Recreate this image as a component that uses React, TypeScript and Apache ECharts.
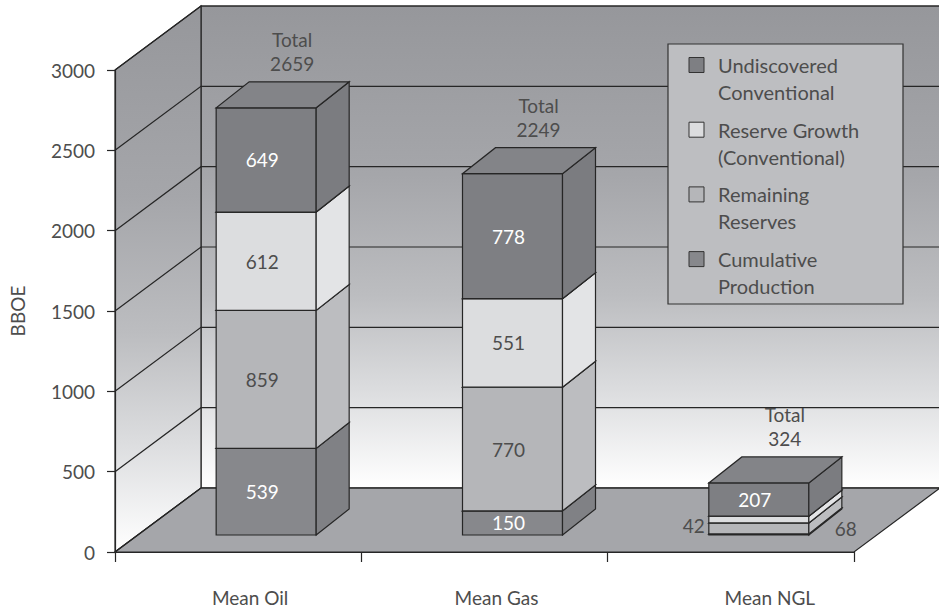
import React, { useEffect, useRef } from "react";
import * as echarts from "echarts";

// Resource categories along the x axis
const categories = ["Mean Oil", "Mean Gas", "Mean NGL"];

// Stack layers, bottom to top (BBOE)
const cumulativeProduction = [539, 150, 7];
const remainingReserves = [859, 770, 68];
const reserveGrowth = [612, 551, 42];
const undiscoveredConventional = [649, 778, 207];

const layerNames = [
  "Cumulative Production",
  "Remaining Reserves",
  "Reserve Growth (Conventional)",
  "Undiscovered Conventional",
];

// Legend wording (two lines each), listed top to bottom
const legendLines = [
  ["Undiscovered", "Conventional"],
  ["Reserve Growth", "(Conventional)"],
  ["Remaining", "Reserves"],
  ["Cumulative", "Production"],
];

const yTicks = [0, 500, 1000, 1500, 2000, 2500, 3000];
const yName = "BBOE";

const layers = [cumulativeProduction, remainingReserves, reserveGrowth, undiscoveredConventional];
const totals = categories.map((_, i) => layers.reduce((s, l) => s + l[i], 0));

// Shading for each layer's faces
const faceColors = [
  { front: "#87888c", side: "#808185", top: "#8c8d91", label: "#ffffff" },
  { front: "#b5b6b9", side: "#bcbdc0", top: "#c1c2c5", label: "#4d4d4d" },
  { front: "#dcdddf", side: "#e3e4e6", top: "#e7e8ea", label: "#4d4d4d" },
  { front: "#7e7f83", side: "#7b7c80", top: "#838488", label: "#ffffff" },
];

const FONT = "Lato, 'Open Sans', sans-serif";
const TEXT = "#4d4d4d";
const EDGE = "#262626";

// Projection of the box depth
const WALL_DX = 86;
const WALL_DY = -64;
const BAR_OFF_X = 28;
const BAR_OFF_Y = -17;
const BAR_DX = 33;
const BAR_DY = -26;
const BAR_HALF = 0.203;

// Legend box placement
const LEGEND_X = 668;
const LEGEND_Y = 44;
const LEGEND_W = 235;
const LEGEND_H = 260;

function wallGradient() {
  return new echarts.graphic.LinearGradient(0, 0, 0, 1, [
    { offset: 0, color: "#96979b" },
    { offset: 0.35, color: "#a5a6aa" },
    { offset: 0.6, color: "#bcbdc0" },
    { offset: 0.8, color: "#dcdddf" },
    { offset: 1, color: "#ffffff" },
  ]);
}

function renderWalls(params: any, api: any) {
  const cs = params.coordSys;
  const x0 = cs.x;
  const x1 = cs.x + cs.width;
  const yb = api.coord([0, yTicks[0]])[1];
  const yt = api.coord([0, yTicks[yTicks.length - 1]])[1];
  const line = { stroke: EDGE, lineWidth: 1.2 };
  const children: any[] = [
    {
      type: "polygon",
      shape: { points: [[x0 + WALL_DX, yt + WALL_DY], [x1 + WALL_DX, yt + WALL_DY], [x1 + WALL_DX, yb + WALL_DY], [x0 + WALL_DX, yb + WALL_DY]] },
      style: { fill: wallGradient(), ...line },
    },
    {
      type: "polygon",
      shape: { points: [[x0, yb], [x0, yt], [x0 + WALL_DX, yt + WALL_DY], [x0 + WALL_DX, yb + WALL_DY]] },
      style: { fill: wallGradient(), ...line },
    },
    {
      type: "polygon",
      shape: { points: [[x0, yb], [x1, yb], [x1 + WALL_DX, yb + WALL_DY], [x0 + WALL_DX, yb + WALL_DY]] },
      style: { fill: "#a5a6aa", ...line },
    },
  ];
  yTicks.forEach((v) => {
    const y = api.coord([0, v])[1];
    children.push({
      type: "polyline",
      shape: { points: [[x0, y], [x0 + WALL_DX, y + WALL_DY], [x1 + WALL_DX, y + WALL_DY]] },
      style: { fill: null, ...line },
    });
  });
  return { type: "group", children };
}

function makeBarRenderer(layer: number) {
  return (params: any, api: any) => {
    const cat = api.value(0);
    const v = api.value(1);
    let base = 0;
    for (let k = 0; k < layer; k++) base += layers[k][cat];
    const pb = api.coord([cat, base]);
    const pt = api.coord([cat, base + v]);
    const band = api.size([1, 0])[0];
    const cx = pb[0] + BAR_OFF_X;
    const xl = cx - band * BAR_HALF;
    const xr = cx + band * BAR_HALF;
    const yb = pb[1] + BAR_OFF_Y;
    const yt = pt[1] + BAR_OFF_Y;
    const c = faceColors[layer];
    const edge = { stroke: EDGE, lineWidth: 1.2 };
    const children: any[] = [
      { type: "polygon", shape: { points: [[xl, yb], [xr, yb], [xr, yt], [xl, yt]] }, style: { fill: c.front, ...edge } },
      { type: "polygon", shape: { points: [[xr, yb], [xr + BAR_DX, yb + BAR_DY], [xr + BAR_DX, yt + BAR_DY], [xr, yt]] }, style: { fill: c.side, ...edge } },
      { type: "polygon", shape: { points: [[xl, yt], [xr, yt], [xr + BAR_DX, yt + BAR_DY], [xl + BAR_DX, yt + BAR_DY]] }, style: { fill: c.top, ...edge } },
    ];
    const h = yb - yt;
    const labelStyle = { text: String(v), fontSize: 19, fontFamily: FONT, verticalAlign: "middle" };
    if (h >= 22) {
      children.push({ type: "text", x: cx - 4, y: (yb + yt) / 2, style: { ...labelStyle, fill: c.label, align: "center" } });
    } else if (h >= 4) {
      // thin slices get their value written beside the box
      if (layer === 2) {
        children.push({ type: "text", x: xl - 4, y: (yb + yt) / 2 + 6, style: { ...labelStyle, fill: TEXT, align: "right" } });
      } else {
        children.push({ type: "text", x: xr + 37, y: (yb + yt) / 2, style: { ...labelStyle, fill: TEXT, align: "center" } });
      }
    }
    return { type: "group", children };
  };
}

function renderTotal(params: any, api: any) {
  const cat = api.value(0);
  const v = api.value(1);
  const p = api.coord([cat, v]);
  const backTop = p[1] + BAR_OFF_Y + BAR_DY;
  return {
    type: "text",
    x: p[0] + 54,
    y: backTop - 6,
    style: {
      text: "Total\n" + v,
      fontSize: 19,
      fontFamily: FONT,
      fill: TEXT,
      align: "center",
      verticalAlign: "bottom",
      lineHeight: 24,
    },
  };
}

// Legend drawn as flat graphic elements on top of everything
function legendElements() {
  const colorsTopDown = [faceColors[3].front, faceColors[2].front, faceColors[1].front, faceColors[0].front];
  const els: any[] = [
    {
      type: "rect",
      z: 100,
      shape: { x: LEGEND_X, y: LEGEND_Y, width: LEGEND_W, height: LEGEND_H },
      style: { fill: "#bdbec1", stroke: "#333333", lineWidth: 1.2 },
    },
  ];
  legendLines.forEach((lines, i) => {
    const cy = LEGEND_Y + 21 + i * 64.7;
    els.push({
      type: "rect",
      z: 101,
      shape: { x: LEGEND_X + 21, y: cy - 7.5, width: 15, height: 15 },
      style: { fill: colorsTopDown[i], stroke: "#333333", lineWidth: 1 },
    });
    els.push({
      type: "text",
      z: 101,
      x: LEGEND_X + 50,
      y: cy - 13.5,
      style: { text: lines.join("\n"), fontSize: 20, fontFamily: FONT, fill: TEXT, lineHeight: 27, verticalAlign: "top", align: "left" },
    });
  });
  return els;
}

export default function App() {
  const ref = useRef<HTMLDivElement>(null);
  useEffect(() => {
    if (!ref.current) return;
    const chart = echarts.init(ref.current, null, { renderer: "svg" });
    const catLabelPad = [24, 24, 78];
    chart.setOption({
      animation: false,
      backgroundColor: "#ffffff",
      grid: { left: 108, top: 70, width: 746, height: 482, containLabel: false },
      xAxis: {
        type: "category",
        data: categories,
        boundaryGap: true,
        z: 10,
        axisLine: { show: true, lineStyle: { color: EDGE, width: 1.2 } },
        axisTick: { show: true, length: 10, lineStyle: { color: EDGE, width: 1.2 } },
        axisLabel: {
          margin: 36,
          formatter: (val: string, idx: number) => `{c${idx}|${val}}`,
          rich: Object.fromEntries(
            catLabelPad.map((p, i) => [`c${i}`, { padding: [0, 0, 0, p], fontSize: 19, fontFamily: FONT, color: TEXT }])
          ),
        },
      },
      yAxis: {
        type: "value",
        min: yTicks[0],
        max: yTicks[yTicks.length - 1],
        interval: yTicks[1] - yTicks[0],
        z: 10,
        name: yName,
        nameLocation: "middle",
        nameRotate: 90,
        nameGap: 88,
        nameTextStyle: { fontSize: 19, fontFamily: FONT, color: TEXT },
        axisLine: { show: true, lineStyle: { color: EDGE, width: 1.2 } },
        axisTick: { show: true, length: 8, lineStyle: { color: EDGE, width: 1.2 } },
        axisLabel: { margin: 20, fontSize: 19, fontFamily: FONT, color: TEXT, formatter: (v: number) => String(v) },
        splitLine: { show: false },
      },
      series: [
        { type: "custom", name: "walls", clip: false, silent: true, z: 1, data: [[0, 0]], encode: { x: 0, y: 1 }, renderItem: renderWalls },
        ...layers.map((vals, li) => ({
          type: "custom",
          name: layerNames[li],
          clip: false,
          z: 2,
          data: vals.map((v, i) => [i, v]),
          encode: { x: 0, y: 1 },
          renderItem: makeBarRenderer(li),
        })),
        {
          type: "custom",
          name: "Total",
          clip: false,
          z: 3,
          data: totals.map((v, i) => [i, v]),
          encode: { x: 0, y: 1 },
          renderItem: renderTotal,
        },
      ],
      graphic: { elements: legendElements() },
    });
    return () => chart.dispose();
  }, []);
  return <div ref={ref} style={{ position: "fixed", left: 0, top: 0, width: 939, height: 609 }} />;
}
